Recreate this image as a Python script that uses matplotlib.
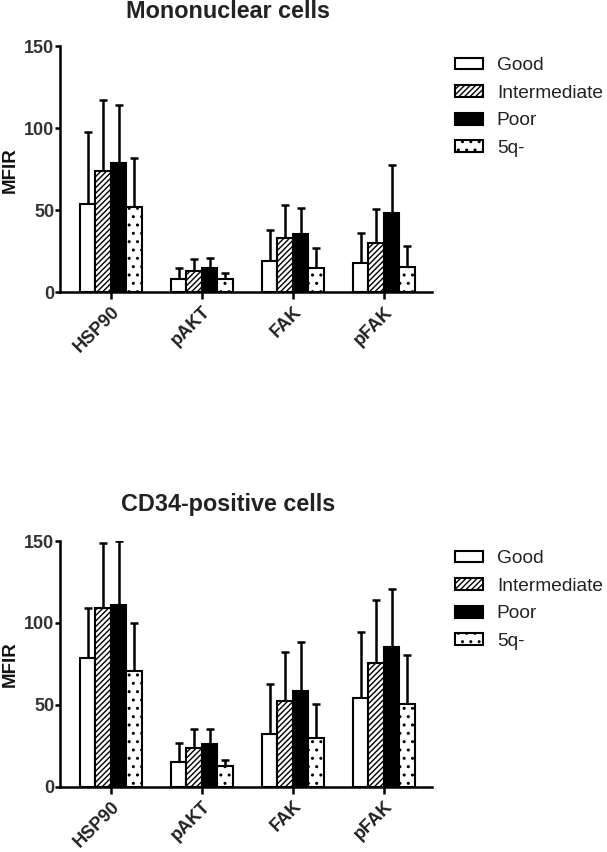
import matplotlib
matplotlib.use("Agg")
import matplotlib.pyplot as plt
import matplotlib.transforms as mtransforms
import numpy as np
from matplotlib.patches import Patch

plt.rcParams['font.family'] = ['Liberation Sans', 'DejaVu Sans']
plt.rcParams['hatch.linewidth'] = 1.0

categories = ["HSP90", "pAKT", "FAK", "pFAK"]
groups = ["Good", "Intermediate", "Poor", "5q-"]

# Mononuclear cells: means and upper error (SD)
mono_mean = {
    "Good":         [54, 8.3, 19, 18],
    "Intermediate": [74, 12.8, 33, 30],
    "Poor":         [79, 14.8, 35.4, 48.5],
    "5q-":          [52, 8, 15, 15.6],
}
mono_err = {
    "Good":         [43.5, 6.5, 19, 18.3],
    "Intermediate": [43, 7.2, 20.4, 20.6],
    "Poor":         [35, 6.2, 16.2, 28.9],
    "5q-":          [30, 4, 11.8, 12.4],
}
# CD34-positive cells
cd34_mean = {
    "Good":         [78.8, 15.3, 32, 54],
    "Intermediate": [109, 23.4, 52.3, 75.4],
    "Poor":         [111, 26, 58.7, 85.2],
    "5q-":          [70.7, 12.6, 30, 50.5],
}
cd34_err = {
    "Good":         [30.2, 11.2, 30.7, 40.3],
    "Intermediate": [40, 11.6, 30, 38.6],
    "Poor":         [39, 9, 29.5, 35.6],
    "5q-":          [29.3, 3.7, 20.5, 29.9],
}

styles = {
    "Good":         dict(facecolor="white", hatch=None),
    "Intermediate": dict(facecolor="white", hatch="//////"),
    "Poor":         dict(facecolor="black", hatch=None),
    "5q-":          dict(facecolor="white", hatch=".."),
}

fig = plt.figure(figsize=(6.07, 8.52), dpi=100)
ax1 = fig.add_axes([0.0988, 0.6569, 0.6129, 0.2891])
ax2 = fig.add_axes([0.0988, 0.0766, 0.6129, 0.2884])

width = 0.17
x = np.arange(len(categories))


def draw(ax, means, errs, leg_y):
    for i, g in enumerate(groups):
        pos = x + (i - 1.5) * width
        st = styles[g]
        ax.bar(pos, means[g], width, facecolor=st["facecolor"], edgecolor="black",
               hatch=st["hatch"], linewidth=1.5, zorder=2)
        ax.errorbar(pos, means[g], yerr=[np.zeros(len(categories)), errs[g]],
                    fmt="none", ecolor="black", elinewidth=1.8, capsize=2.6,
                    capthick=1.8, zorder=1)
    ax.set_xlim(-0.56, 3.53)
    ax.set_ylim(0, 150)
    ax.set_yticks([0, 50, 100, 150])
    ax.set_xticks(x)
    ax.set_xticklabels(categories, rotation=45, ha="right", rotation_mode="anchor",
                       fontsize=13, fontweight="bold", color="#222222")
    offset = mtransforms.ScaledTranslation(6 / 100, 0, fig.dpi_scale_trans)
    for lab in ax.get_xticklabels():
        lab.set_transform(lab.get_transform() + offset)
    for lab in ax.get_yticklabels():
        lab.set_fontsize(13)
        lab.set_fontweight("bold")
        lab.set_color("#333333")
    ax.spines["top"].set_visible(False)
    ax.spines["right"].set_visible(False)
    for s in ("left", "bottom"):
        ax.spines[s].set_linewidth(1.8)
    ax.tick_params(axis="both", width=1.8, direction="out")
    ax.tick_params(axis="y", length=3.6, pad=0.5)
    ax.tick_params(axis="x", length=5, pad=3)
    handles = [Patch(facecolor=styles[g]["facecolor"], edgecolor="black",
                     hatch=styles[g]["hatch"], linewidth=1.5, label=g) for g in groups]
    ax.legend(handles=handles, loc="upper left", bbox_to_anchor=(1.062, leg_y),
              frameon=False, fontsize=13.8, handlelength=1.46, handleheight=0.57,
              labelspacing=0.55, handletextpad=0.72, borderpad=0, borderaxespad=0,
              labelcolor="#222222")


draw(ax1, mono_mean, mono_err, 0.954)
draw(ax2, cd34_mean, cd34_err, 0.962)

fig.text(228 / 607, 1 - 11 / 852, "Mononuclear cells", ha="center", va="center",
         fontsize=16.8, fontweight="bold", color="#222222")
fig.text(228 / 607, 1 - 504 / 852, "CD34-positive cells", ha="center", va="center",
         fontsize=16.8, fontweight="bold", color="#222222")
fig.text(10 / 607, 1 - 170 / 852, "MFIR", rotation=90, ha="center", va="center",
         fontsize=13.5, fontweight="bold", color="#111111")
fig.text(10 / 607, 1 - 664 / 852, "MFIR", rotation=90, ha="center", va="center",
         fontsize=13.5, fontweight="bold", color="#111111")

fig.savefig("out.png", dpi=100)
